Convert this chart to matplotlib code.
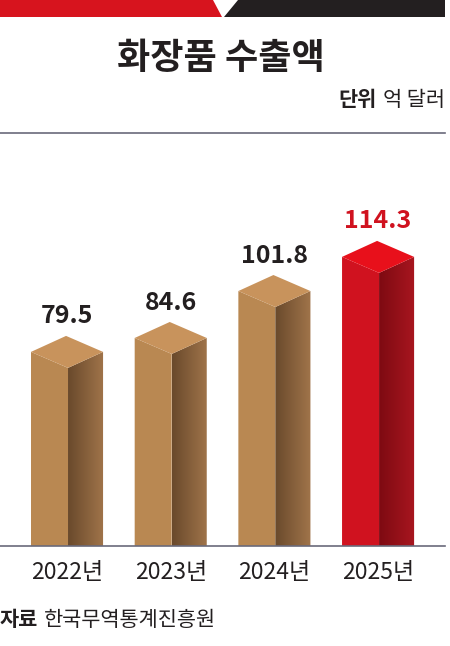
import numpy as np
import matplotlib
matplotlib.use("Agg")
from matplotlib import pyplot as plt
from matplotlib.patches import Polygon
from matplotlib.lines import Line2D
from matplotlib.colors import LinearSegmentedColormap

plt.rcParams['font.family'] = ['Noto Sans CJK KR', 'DejaVu Sans']

# data
years = ['2022년', '2023년', '2024년', '2025년']
values = [79.5, 84.6, 101.8, 114.3]
highlight = [False, False, False, True]

title = '화장품 수출액'
source = '한국무역통계진흥원'

W, H = 450, 646
fig = plt.figure(figsize=(W / 100, H / 100), dpi=100)
renderer = fig.canvas.get_renderer()

# top banner
fig.add_artist(Polygon([(0, 1), (213 / W, 1), (222 / W, 1 - 17 / H), (0, 1 - 17 / H)],
                       closed=True, transform=fig.transFigure, color='#d7141e', lw=0))
fig.add_artist(Polygon([(238 / W, 1), (445 / W, 1), (445 / W, 1 - 17 / H), (224 / W, 1 - 17 / H)],
                       closed=True, transform=fig.transFigure, color='#231f20', lw=0))

fig.text(221 / W, 1 - 58 / H, title, ha='center', va='center', fontsize=26,
         fontweight='bold', color='#231f20')

# unit, right aligned: bold part placed left of the regular part
t_unit = fig.text(445 / W, 1 - 100 / H, '억 달러', ha='right', va='center', fontsize=15,
                  color='#231f20')
bb = t_unit.get_window_extent(renderer)
fig.text((bb.x0 - 6) / W, 1 - 100 / H, '단위', ha='right', va='center', fontsize=15,
         fontweight='bold', color='#231f20')

fig.add_artist(Line2D([0, 445 / W], [1 - 133 / H, 1 - 133 / H], transform=fig.transFigure,
                      color='#6a6a7a', lw=1.2))

t_src = fig.text(0, 1 - 620 / H, '자료', ha='left', va='center', fontsize=15,
                 fontweight='bold', color='#231f20')
bb = t_src.get_window_extent(renderer)
fig.text((bb.x1 + 6) / W, 1 - 620 / H, source, ha='left', va='center', fontsize=15,
         color='#231f20')

# bar axes
y0 = 8.4
ax = fig.add_axes([0, (H - 546) / H, 445 / W, 346 / H])
ax.set_xlim(-0.656, 3.636)
ax.set_ylim(y0, y0 + 346 / 2.73)
ax.axis('off')

w, s = 0.357, 0.338   # front width, side width
d = 16 / 2.73         # depth offset in value units

brown_side = LinearSegmentedColormap.from_list('bs', ['#6a4a2c', '#a0744a'])
red_side = LinearSegmentedColormap.from_list('rs', ['#7e0a12', '#a8161f'])
grad = np.linspace(0, 1, 64).reshape(1, -1)

for i, (v, hl) in enumerate(zip(values, highlight)):
    x = i
    front_c = '#d0121f' if hl else '#b98852'
    top_c = '#e8101b' if hl else '#c8935c'
    front = Polygon([(x - w, y0), (x - w, v), (x, v - d), (x, y0)], closed=True,
                    color=front_c, lw=0)
    ax.add_patch(front)
    side = Polygon([(x, y0), (x, v - d), (x + s, v), (x + s, y0)], closed=True,
                   facecolor='none', lw=0)
    ax.add_patch(side)
    im = ax.imshow(grad, cmap=red_side if hl else brown_side, aspect='auto',
                   extent=[x, x + s, y0, v + 1], zorder=2)
    im.set_clip_path(side)
    top = Polygon([(x - w, v), (x, v - d), (x + s, v), (x + s - w, v + d)], closed=True,
                  color=top_c, lw=0, zorder=3)
    ax.add_patch(top)

    ax.annotate(f'{v:.1f}', (x + (s - w) / 2, v + d), xytext=(0, 14), textcoords='offset points',
                ha='center', va='center', fontsize=18, fontweight='bold',
                color='#d0121f' if hl else '#231f20', annotation_clip=False)
    ax.annotate(years[i], (x + (s - w) / 2, y0), xytext=(0, -19), textcoords='offset points',
                ha='center', va='center', fontsize=16.5, color='#231f20',
                annotation_clip=False)

ax.axhline(y0, color='#6a6a7a', lw=1.2, zorder=4, clip_on=False)

fig.savefig('out.png', dpi=100)
